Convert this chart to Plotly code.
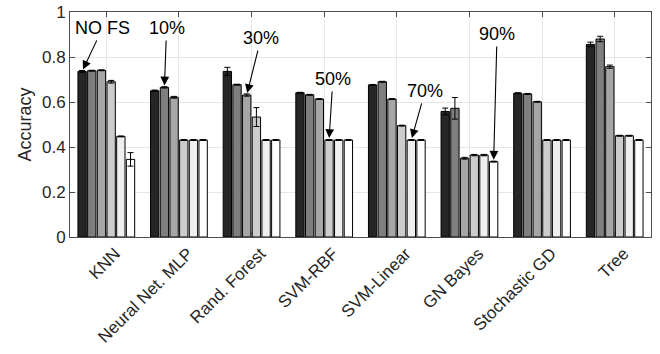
import plotly.graph_objects as go

categories = ["KNN", "Neural Net. MLP", "Rand. Forest", "SVM-RBF",
              "SVM-Linear", "GN Bayes", "Stochastic GD", "Tree"]
series_names = ["NO FS", "10%", "30%", "50%", "70%", "90%"]

no_fs = [0.736, 0.650, 0.736, 0.641, 0.676, 0.558, 0.639, 0.856]
fs10 = [0.739, 0.665, 0.677, 0.632, 0.690, 0.572, 0.636, 0.880]
fs30 = [0.741, 0.621, 0.631, 0.613, 0.613, 0.350, 0.601, 0.757]
fs50 = [0.690, 0.431, 0.533, 0.431, 0.495, 0.364, 0.431, 0.450]
fs70 = [0.447, 0.431, 0.431, 0.431, 0.431, 0.364, 0.431, 0.450]
fs90 = [0.345, 0.431, 0.431, 0.431, 0.431, 0.335, 0.431, 0.431]

err_no_fs = [0.004, 0.003, 0.018, 0.002, 0.002, 0.015, 0.002, 0.010]
err_fs10 = [0.002, 0.003, 0.002, 0.002, 0.002, 0.048, 0.002, 0.012]
err_fs30 = [0.002, 0.004, 0.005, 0.002, 0.002, 0.004, 0.002, 0.007]
err_fs50 = [0.006, 0.002, 0.042, 0.002, 0.002, 0.003, 0.002, 0.002]
err_fs70 = [0.002, 0.002, 0.002, 0.002, 0.002, 0.003, 0.002, 0.002]
err_fs90 = [0.030, 0.002, 0.002, 0.002, 0.002, 0.002, 0.002, 0.002]

values = [no_fs, fs10, fs30, fs50, fs70, fs90]
errors = [err_no_fs, err_fs10, err_fs30, err_fs50, err_fs70, err_fs90]
colors = ["#262626", "#7f7f7f", "#a6a6a6", "#cccccc", "#efefef", "#ffffff"]

# which group each series label points to, and where its text sits
label_group = [0, 1, 2, 3, 4, 5]
label_text_x = [0.95, 1.83, 3.13, 4.12, 5.39, 6.38]
label_text_y = [0.929, 0.929, 0.884, 0.702, 0.649, 0.902]

x_pos = list(range(1, len(categories) + 1))
n_series = len(series_names)
bargap = 0.2
slot = (1 - bargap) / n_series

fig = go.Figure()
for i, name in enumerate(series_names):
    fig.add_trace(go.Bar(
        x=x_pos, y=values[i], name=name,
        marker=dict(color=colors[i], line=dict(color="#000000", width=1)),
        error_y=dict(type="data", array=errors[i], color="#000000",
                     thickness=1, width=3),
    ))

annotations = []
for i, name in enumerate(series_names):
    g = label_group[i]
    hx = x_pos[g] - (1 - bargap) / 2 + slot * (i + 0.5)
    hy = values[i][g]
    annotations.append(dict(
        x=hx, y=hy, xref="x", yref="y",
        ax=label_text_x[i], ay=label_text_y[i], axref="x", ayref="y",
        text=name, showarrow=True, arrowhead=2, arrowsize=1.6,
        arrowwidth=1.1, arrowcolor="#000000", standoff=2, startstandoff=1,
        font=dict(family="Liberation Sans, Arial, sans-serif", size=18,
                  color="#000000"),
    ))

axis_color = "#4d4d4d"
fig.update_layout(
    width=660, height=354,
    margin=dict(l=70, r=9, t=12, b=117),
    plot_bgcolor="#ffffff", paper_bgcolor="#ffffff",
    barmode="group", bargap=bargap, bargroupgap=0.14,
    showlegend=False,
    font=dict(family="Liberation Sans, Arial, sans-serif", size=17,
              color="#262626"),
    annotations=annotations,
    xaxis=dict(
        range=[0.5, len(categories) + 0.5],
        tickmode="array", tickvals=x_pos, ticktext=categories,
        tickangle=-45, ticks="inside", ticklen=5, tickcolor=axis_color,
        ticklabelshift=9, ticklabelstandoff=-1,
        showgrid=True, gridcolor="#e6e6e6", gridwidth=1,
        showline=True, linecolor=axis_color, linewidth=1, mirror="ticks",
        zeroline=False, automargin=False,
    ),
    yaxis=dict(
        range=[0, 1], tickmode="array",
        tickvals=[0, 0.2, 0.4, 0.6, 0.8, 1],
        ticktext=["0", "0.2", "0.4", "0.6", "0.8", "1"],
        ticks="inside", ticklen=5, tickcolor=axis_color,
        showgrid=True, gridcolor="#e6e6e6", gridwidth=1,
        showline=True, linecolor=axis_color, linewidth=1, mirror="ticks",
        zeroline=False, automargin=False,
        title=dict(text="Accuracy", font=dict(size=18), standoff=5),
    ),
)

# remove the default page margin so the figure fills the window exactly
fig.write_html(
    "out.html",
    config={"displayModeBar": False},
    post_script="document.body.style.margin='0';document.body.style.overflow='hidden';",
)
